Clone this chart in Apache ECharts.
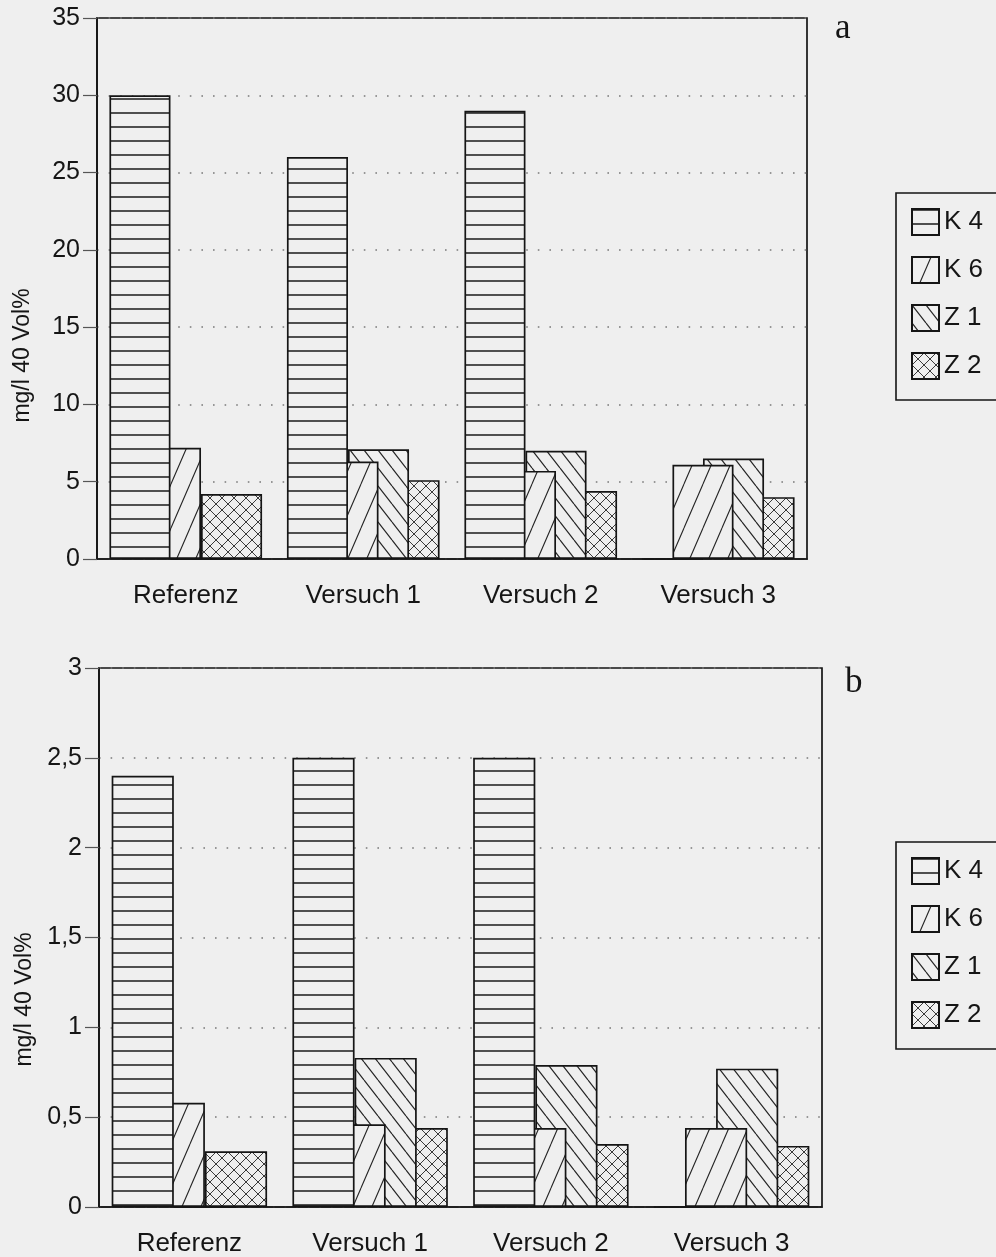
<!DOCTYPE html>
<html>
<head>
<meta charset="utf-8">
<script src="https://cdn.jsdelivr.net/npm/echarts@6/dist/echarts.min.js"></script>
<style>
html,body{margin:0;padding:0;background:#efefef;}
#chart{width:996px;height:1257px;}
</style>
</head>
<body>
<div id="chart"></div>
<script>
// ---- data ----
const categories = ['Referenz', 'Versuch 1', 'Versuch 2', 'Versuch 3'];
const seriesNames = ['K 4', 'K 6', 'Z 1', 'Z 2'];
// panel a (mg/l 40 Vol%)
const aK4 = [30.0, 26.0, 29.0, 0];
const aK6 = [7.2, 6.3, 5.7, 6.1];
const aZ1 = [0, 7.1, 7.0, 6.5];
const aZ2 = [4.2, 5.1, 4.4, 4.0];
// panel b (mg/l 40 Vol%)
const bK4 = [2.40, 2.50, 2.50, 0];
const bK6 = [0.58, 0.46, 0.44, 0.44];
const bZ1 = [0, 0.83, 0.79, 0.77];
const bZ2 = [0.31, 0.44, 0.35, 0.34];
// axis ticks
const aTicks = {min: 0, max: 35, step: 5};
const bTicks = {min: 0, max: 3, step: 0.5};
const yName = 'mg/l 40 Vol%';
const panelLabels = ['a', 'b'];

// ---- styling ----
const BG = '#efefef';
const INK = '#151515';
const FONT = '"Liberation Sans", Arial, sans-serif';

function makePattern(kind) {
  const c = document.createElement('canvas');
  let w, h;
  if (kind === 'h') { w = 14; h = 14; }
  else if (kind === 'f') { w = 19; h = 44; }
  else if (kind === 'b') { w = 14; h = 18; }
  else { w = 12; h = 12; }
  c.width = w; c.height = h;
  const g = c.getContext('2d');
  g.fillStyle = BG;
  g.fillRect(0, 0, w, h);
  g.strokeStyle = '#262626';
  g.lineWidth = 1.1;
  g.beginPath();
  if (kind === 'h') {
    g.lineWidth = 1.6;
    g.moveTo(0, 1); g.lineTo(w, 1);
  } else if (kind === 'f') {
    for (const x of [-w, 0, w]) { g.moveTo(x, h); g.lineTo(x + w, 0); }
  } else if (kind === 'b') {
    g.lineWidth = 1.2;
    for (const x of [-w, 0, w]) { g.moveTo(x, 0); g.lineTo(x + w, h); }
  } else {
    g.lineWidth = 0.9;
    g.moveTo(0, 0); g.lineTo(w, h);
    g.moveTo(w, 0); g.lineTo(0, h);
  }
  g.stroke();
  return {image: c, repeat: 'repeat'};
}
const patterns = [makePattern('h'), makePattern('f'), makePattern('b'), makePattern('x')];
const zOrder = [5, 4, 3, 2];

function barSeries(idx, data, axisIndex) {
  return {
    name: seriesNames[idx],
    type: 'bar',
    xAxisIndex: axisIndex,
    yAxisIndex: axisIndex,
    data: data,
    barWidth: '34.4%',
    barGap: '-50%',
    z: zOrder[idx],
    itemStyle: {color: patterns[idx], borderColor: INK, borderWidth: 1.7},
    emphasis: {disabled: true}
  };
}

function xAxis(gridIndex) {
  return {
    type: 'category', gridIndex: gridIndex, data: categories,
    axisLine: {lineStyle: {color: INK, width: 1.7}},
    axisTick: {alignWithLabel: true, length: 11, lineStyle: {color: '#555', width: 1.2}},
    axisLabel: {interval: 0, margin: 24, fontSize: 26, color: INK, fontFamily: FONT},
    splitLine: {show: false}
  };
}
function yAxis(gridIndex, t, shift) {
  return {
    type: 'value', gridIndex: gridIndex, min: t.min, max: t.max, interval: t.step,
    name: yName, nameLocation: 'middle', nameGap: 63, nameRotate: 90,
    nameTextStyle: {fontSize: 23, color: INK, fontFamily: FONT, padding: [0, shift * 2, 0, 0]},
    axisLine: {show: true, lineStyle: {color: INK, width: 1.7}},
    axisTick: {show: true, length: 14, lineStyle: {color: '#555', width: 1.2}},
    axisLabel: {margin: 17, fontSize: 25, color: INK, fontFamily: FONT,
      formatter: v => String(v).replace('.', ',')},
    splitLine: {show: true, lineStyle: {color: '#7a7a7a', width: 1.5, type: [1.6, 10]}}
  };
}
function legend(top) {
  return {
    orient: 'vertical', left: 896, top: top, icon: 'rect',
    itemWidth: 27, itemHeight: 26, itemGap: 20,
    padding: [15, 22, 20, 15],
    borderColor: INK, borderWidth: 1.6,
    textStyle: {fontSize: 26, color: INK, fontFamily: FONT},
    data: seriesNames, selectedMode: false
  };
}

const chart = echarts.init(document.getElementById('chart'), null, {renderer: 'canvas'});
chart.setOption({
  backgroundColor: BG,
  animation: false,
  title: [
    {text: panelLabels[0], left: 830, top: 6, textStyle: {fontFamily: '"Liberation Serif", "Times New Roman", serif', fontSize: 35, fontWeight: 'normal', color: INK}},
    {text: panelLabels[1], left: 840, top: 660, textStyle: {fontFamily: '"Liberation Serif", "Times New Roman", serif', fontSize: 35, fontWeight: 'normal', color: INK}}
  ],
  grid: [
    {left: 97, top: 18, width: 710, height: 541, show: true, borderColor: INK, borderWidth: 1.7, backgroundColor: 'transparent'},
    {left: 99, top: 668, width: 723, height: 540, show: true, borderColor: INK, borderWidth: 1.7, backgroundColor: 'transparent'}
  ],
  legend: [legend(193), legend(842)],
  xAxis: [xAxis(0), xAxis(1)],
  yAxis: [yAxis(0, aTicks, 67), yAxis(1, bTicks, 62)],
  series: [
    barSeries(0, aK4, 0), barSeries(1, aK6, 0), barSeries(2, aZ1, 0), barSeries(3, aZ2, 0),
    barSeries(0, bK4, 1), barSeries(1, bK6, 1), barSeries(2, bZ1, 1), barSeries(3, bZ2, 1)
  ]
});
</script>
</body>
</html>
